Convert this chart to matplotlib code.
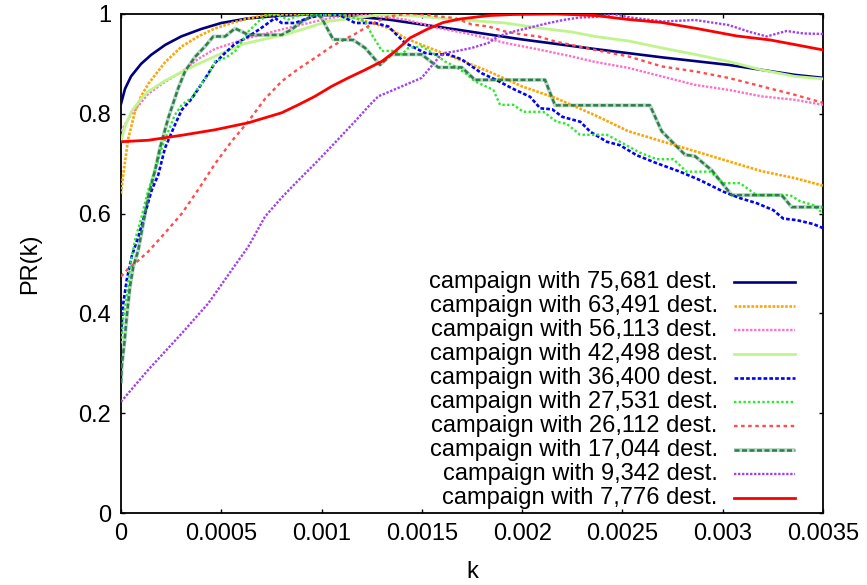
import numpy as np
import matplotlib
matplotlib.use("Agg")
import matplotlib.pyplot as plt

plt.rcParams['font.family'] = ['Liberation Sans', 'DejaVu Sans']

# k values are given in units of 1e-4
k_75681 = [0, 0.2, 0.5, 1.0, 1.5, 2.2, 3.0, 4.0, 5.0, 6.3, 8.0, 9.5, 11, 13.3, 16.7, 20, 23.6, 27, 30.3, 33.6, 35]
pr_75681 = [0.82, 0.85, 0.875, 0.90, 0.918, 0.938, 0.955, 0.97, 0.982, 0.991, 0.997, 0.999, 0.997, 0.989, 0.969, 0.949, 0.930, 0.913, 0.898, 0.878, 0.872]

k_63491 = [0, 0.15, 0.36, 0.7, 1.0, 1.36, 2.19, 3.03, 3.85, 4.68, 5.52, 6.33, 7.18, 8.0, 9.5, 10.5, 11.67, 12.5, 13.33, 14.16, 15.0, 16.66, 18.32, 19.99, 21.65, 23.64, 25.3, 26.96, 28.62, 30.28, 31.94, 33.6, 35]
pr_63491 = [0.64, 0.69, 0.75, 0.805, 0.835, 0.86, 0.903, 0.935, 0.955, 0.971, 0.982, 0.991, 0.997, 0.999, 1.0, 0.998, 0.992, 0.982, 0.972, 0.952, 0.938, 0.912, 0.885, 0.855, 0.832, 0.797, 0.765, 0.745, 0.725, 0.705, 0.685, 0.671, 0.656]

k_56113 = [0, 0.53, 1.36, 2.19, 3.03, 3.85, 4.68, 6.35, 8.01, 9.67, 11.07, 12.3, 14.16, 15.82, 17.49, 19.15, 20.81, 22.47, 23.63, 25.3, 26.96, 28.62, 30.28, 31.94, 33.6, 35]
pr_56113 = [0.765, 0.80, 0.84, 0.864, 0.884, 0.91, 0.93, 0.952, 0.969, 0.985, 0.997, 0.998, 0.989, 0.972, 0.959, 0.942, 0.929, 0.915, 0.904, 0.892, 0.875, 0.858, 0.848, 0.835, 0.828, 0.818]

k_42498 = [0, 0.2, 0.53, 1.0, 1.36, 2.19, 3.03, 3.85, 4.68, 6.1, 8.3, 10.3, 12.8, 14.5, 16.66, 19.15, 20.81, 22.47, 23.63, 25.3, 26.96, 28.62, 30.28, 31.94, 33.6, 35]
pr_42498 = [0.745, 0.775, 0.805, 0.83, 0.845, 0.866, 0.884, 0.90, 0.915, 0.94, 0.96, 0.985, 0.998, 0.997, 0.989, 0.982, 0.972, 0.964, 0.955, 0.946, 0.932, 0.919, 0.905, 0.888, 0.875, 0.870]

k_36400 = [0, 0.115, 0.284, 0.533, 0.863, 1.197, 1.531, 1.86, 2.19, 2.69, 3.03, 3.52, 4.02, 4.69, 5.19, 5.68, 6.35, 6.85, 7.34, 7.68, 8.01, 8.68, 9.34, 10.0, 10.9, 11.67, 12.66, 13.33, 13.83, 14.16, 14.66, 15.16, 15.65, 16.32, 16.99, 17.49, 18.0, 18.7, 19.5, 20.4, 20.9, 21.5, 22.0, 22.9, 23.4, 24.22, 24.88, 25.71, 26.71, 27.87, 28.87, 30.03, 30.86, 31.69, 32.52, 33.02, 33.69, 34.52, 35.0]
pr_36400 = [0.36, 0.42, 0.467, 0.514, 0.554, 0.60, 0.647, 0.678, 0.731, 0.778, 0.808, 0.83, 0.86, 0.902, 0.922, 0.94, 0.955, 0.968, 0.982, 0.992, 0.982, 0.982, 0.992, 0.998, 0.998, 0.982, 0.982, 0.975, 0.955, 0.942, 0.932, 0.922, 0.919, 0.919, 0.909, 0.895, 0.881, 0.868, 0.851, 0.834, 0.811, 0.809, 0.794, 0.784, 0.764, 0.744, 0.737, 0.717, 0.701, 0.684, 0.667, 0.644, 0.631, 0.621, 0.607, 0.59, 0.587, 0.579, 0.571]

k_27531 = [0, 0.115, 0.284, 0.449, 0.698, 1.03, 1.36, 1.70, 2.03, 2.36, 2.69, 3.03, 3.52, 3.85, 4.35, 4.69, 5.19, 5.68, 6.02, 6.35, 6.85, 7.34, 7.68, 8.34, 9.01, 9.76, 11.08, 11.67, 12.17, 12.5, 12.83, 13.0, 13.66, 14.0, 14.32, 14.99, 15.66, 16.15, 16.65, 17.15, 17.65, 18.56, 18.9, 19.56, 20.06, 21.06, 21.72, 22.22, 22.89, 24.22, 24.88, 25.88, 26.71, 27.54, 28.2, 29.37, 30.03, 30.86, 31.69, 33.36, 33.85, 34.52, 35]
pr_27531 = [0.34, 0.393, 0.433, 0.494, 0.547, 0.594, 0.647, 0.687, 0.731, 0.765, 0.798, 0.818, 0.832, 0.852, 0.878, 0.905, 0.912, 0.925, 0.945, 0.965, 0.985, 0.999, 1.0, 0.989, 0.999, 0.998, 0.998, 0.992, 0.985, 0.959, 0.938, 0.926, 0.926, 0.919, 0.932, 0.935, 0.919, 0.905, 0.895, 0.882, 0.865, 0.848, 0.818, 0.818, 0.804, 0.804, 0.784, 0.780, 0.758, 0.758, 0.744, 0.722, 0.709, 0.709, 0.684, 0.684, 0.661, 0.661, 0.637, 0.637, 0.625, 0.617, 0.60]

k_26112 = [0, 0.364, 0.698, 1.36, 2.19, 3.03, 3.85, 4.69, 5.52, 6.35, 7.18, 8.01, 8.84, 9.67, 10.5, 11.33, 11.67, 12.17, 12.66, 13.33, 14.16, 14.99, 15.82, 16.65, 17.49, 18.31, 19.15, 19.98, 20.81, 21.64, 22.47, 23.63, 25.3, 26.96, 28.62, 30.28, 31.94, 33.6, 35]
pr_26112 = [0.474, 0.49, 0.50, 0.524, 0.561, 0.60, 0.648, 0.70, 0.745, 0.785, 0.83, 0.865, 0.89, 0.912, 0.935, 0.953, 0.96, 0.972, 0.983, 0.995, 1.0, 1.0, 0.995, 0.992, 0.979, 0.975, 0.965, 0.959, 0.955, 0.945, 0.938, 0.928, 0.915, 0.895, 0.885, 0.872, 0.855, 0.838, 0.822]

k_17044 = [0, 0.035, 0.165, 0.284, 0.449, 0.613, 0.863, 1.11, 1.36, 1.70, 1.94, 2.36, 2.86, 3.19, 3.69, 4.19, 4.6, 5.19, 5.68, 6.02, 6.35, 6.68, 7.34, 8.01, 8.51, 9.01, 9.76, 10.0, 10.58, 11.58, 12.17, 12.91, 13.5, 14.99, 15.82, 16.99, 17.65, 21.14, 21.64, 26.37, 26.96, 27.62, 28.12, 28.62, 29.12, 29.45, 30.45, 32.94, 33.44, 35]
pr_17044 = [0.26, 0.293, 0.34, 0.393, 0.454, 0.494, 0.527, 0.581, 0.634, 0.687, 0.731, 0.792, 0.852, 0.885, 0.914, 0.935, 0.955, 0.955, 0.971, 0.965, 0.958, 0.958, 0.958, 0.958, 0.969, 0.985, 1.0, 0.992, 0.949, 0.948, 0.932, 0.898, 0.919, 0.919, 0.893, 0.893, 0.868, 0.868, 0.817, 0.817, 0.765, 0.738, 0.718, 0.715, 0.698, 0.687, 0.637, 0.637, 0.613, 0.613]

k_9342 = [0, 1.36, 3.03, 4.35, 5.52, 6.35, 7.18, 8.01, 8.68, 9.17, 9.67, 10.5, 11.67, 12.41, 12.83, 13.83, 14.99, 15.82, 16.15, 16.65, 17.49, 18.31, 18.81, 19.48, 20.31, 21.22, 22.05, 22.88, 23.63, 24.55, 25.38, 27.04, 28.62, 30.28, 31.36, 32.19, 33.19, 34.02, 35]
pr_9342 = [0.223, 0.287, 0.36, 0.42, 0.487, 0.534, 0.594, 0.632, 0.66, 0.68, 0.70, 0.735, 0.785, 0.818, 0.835, 0.852, 0.872, 0.912, 0.922, 0.925, 0.932, 0.942, 0.955, 0.964, 0.972, 0.981, 0.988, 0.993, 0.994, 1.0, 0.993, 0.985, 0.988, 0.978, 0.964, 0.955, 0.966, 0.961, 0.96]

k_7776 = [0, 1.36, 3.03, 4.69, 6.35, 8.01, 8.84, 9.67, 10.5, 11.33, 12.17, 13.0, 13.66, 14.41, 15.24, 16.07, 16.9, 17.73, 18.4, 19.56, 21.72, 23.63, 25.3, 26.96, 28.70, 30.7, 32.36, 33.69, 35]
pr_7776 = [0.744, 0.747, 0.757, 0.768, 0.782, 0.802, 0.818, 0.835, 0.855, 0.872, 0.888, 0.905, 0.925, 0.952, 0.969, 0.983, 0.99, 0.994, 0.997, 0.999, 1.0, 0.997, 0.989, 0.983, 0.971, 0.956, 0.948, 0.938, 0.928]

labels = ["campaign with 75,681 dest.", "campaign with 63,491 dest.", "campaign with 56,113 dest.",
          "campaign with 42,498 dest.", "campaign with 36,400 dest.", "campaign with 27,531 dest.",
          "campaign with 26,112 dest.", "campaign with 17,044 dest.", "campaign with 9,342 dest.",
          "campaign with 7,776 dest."]

x_ticks = [0, 0.0005, 0.001, 0.0015, 0.002, 0.0025, 0.003, 0.0035]
x_tick_labels = ["0", "0.0005", "0.001", "0.0015", "0.002", "0.0025", "0.003", "0.0035"]
y_ticks = [0, 0.2, 0.4, 0.6, 0.8, 1.0]
y_tick_labels = ["0", "0.2", "0.4", "0.6", "0.8", "1"]

series = [
    (k_75681, pr_75681, dict(color='#00007f', lw=1.9, ls='-')),
    (k_63491, pr_63491, dict(color='#ffa500', lw=1.9, dashes=(1.0, 0.6))),
    (k_56113, pr_56113, dict(color='#ff6ec7', lw=1.7, dashes=(1.0, 0.7))),
    (k_42498, pr_42498, dict(color='#bff58c', lw=2.0, ls='-')),
    (k_36400, pr_36400, dict(color='#0000ff', lw=1.9, dashes=(1.4, 0.8))),
    (k_27531, pr_27531, dict(color='#22ee22', lw=1.7, dashes=(1.0, 1.0))),
    (k_26112, pr_26112, dict(color='#ff4d4d', lw=1.7, dashes=(1.5, 1.5))),
    (k_17044, pr_17044, dict(color='#2e7d4f', lw=1.8, dashes=(2.0, 1.0))),
    (k_9342, pr_9342, dict(color='#a040f0', lw=1.7, dashes=(1.0, 0.7))),
    (k_7776, pr_7776, dict(color='#ff0000', lw=2.0, ls='-')),
]
halo = dict(color='#bcd9c6', lw=2.8, solid_capstyle='butt')

fig = plt.figure(figsize=(8.67, 5.85), dpi=100)
ax = fig.add_axes([121/867, 72/585, 702/867, 499/585])

for i, (k, pr, st) in enumerate(series):
    kk = np.array(k) * 1e-4
    if i == 7:
        ax.plot(kk, pr, zorder=2, **halo)
    ax.plot(kk, pr, zorder=3, **st)

ax.set_xlim(0, 0.0035)
ax.set_ylim(0, 1)
ax.set_xticks(x_ticks)
ax.set_xticklabels(x_tick_labels)
ax.set_yticks(y_ticks)
ax.set_yticklabels(y_tick_labels)
ax.tick_params(direction='in', length=3, width=1, top=True, right=True, labelsize=17, pad=7)
for sp in ax.spines.values():
    sp.set_linewidth(1.3)

ax.set_xlabel("k", fontsize=17)
ax.set_ylabel("PR(k)", fontsize=17)
ax.xaxis.set_label_coords(0.5, -0.118)
ax.xaxis.label.set_va('center')
ax.yaxis.set_label_coords(-0.13, 0.5)
ax.yaxis.label.set_va('center')

# legend drawn gnuplot style: right-justified text, then sample
for i, (lab, (k, pr, st)) in enumerate(zip(labels, series)):
    ypx = 282 + 24 * i
    ya = (513 - ypx) / 499
    ax.text(0.850, ya, lab, transform=ax.transAxes, ha='right', va='center', fontsize=17)
    if i == 7:
        ax.plot([0.873, 0.960], [ya, ya], transform=ax.transAxes, **halo)
    ax.plot([0.873, 0.960], [ya, ya], transform=ax.transAxes, **st)

fig.savefig("out.png", dpi=100)
